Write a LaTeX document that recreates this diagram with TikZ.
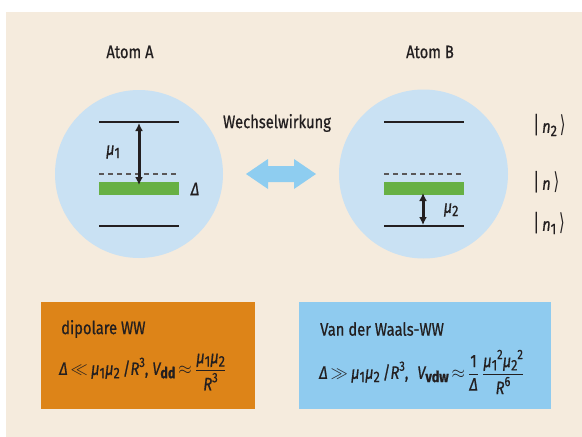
\documentclass[tikz,border=0pt]{standalone}
\usepackage{amsmath}
\usepackage{fontspec}
\setmainfont{Fira Sans}[FakeStretch=0.82,FakeBold=0.7]
\newfontfamily\symfont{DejaVu Sans}[FakeStretch=0.8]
\usetikzlibrary{arrows.meta}
\definecolor{bgbeige}{HTML}{F5EBDD}
\definecolor{atomblue}{HTML}{C9E1F3}
\definecolor{barblue}{HTML}{8ECDF0}
\definecolor{boxorange}{HTML}{DD8418}
\definecolor{boxblue}{HTML}{8FCBEF}
\definecolor{levgreen}{HTML}{67B044}
\definecolor{ink}{HTML}{231F20}
\newcommand\lo[1]{\raisebox{-0.35ex}{\scalebox{0.85}{#1}}}
\newcommand\hi[1]{\raisebox{0.85ex}{\scalebox{0.75}{#1}}}
\newcommand\myit[1]{{\itshape #1}}
\newcommand\ket[1]{\scalebox{1}[1.3]{|}\,#1\,\scalebox{1}[1.3]{\symfont ⟩}}
\tikzset{
  lbl/.style={text=ink, font=\fontsize{18}{21}\selectfont, inner sep=0pt},
  level/.style={line width=2.2pt, ink},
  dlevel/.style={line width=1.3pt, ink!75, dash pattern=on 5pt off 4pt},
  green/.style={fill=levgreen, draw=none},
  tran/.style={line width=3pt, draw=ink, {Latex[length=8pt,width=8pt]}-{Latex[length=8pt,width=8pt]}}
}
\begin{document}
\begin{tikzpicture}[x=1pt,y=-1pt]
\useasboundingbox (0,0) rectangle (582,437);
\fill[white] (0,0) rectangle (582,437);
\fill[bgbeige] (6,12) rectangle (582,437);

% atoms
\fill[atomblue] (139,174) circle (84);
\fill[atomblue] (423.5,174) circle (84.5);
\node[lbl] (atomA) at (130,52) {Atom A};
\node[lbl] (atomB) at (430,52) {Atom B};

% Atom A levels
\draw[level] (99,122) -- (179,122);
\draw[dlevel] (99,174) -- (179,174);
\fill[green] (99,182) rectangle (179,195);
\draw[level] (99,226) -- (179,226);
\coordinate (a1) at (139,123);
\coordinate (a2) at (139,185);
\draw[tran] (a1) -- (a2);
\node[lbl] (mu1) at (113,152) {\myit{μ}\lo{1}};
\node[lbl] (deltaA) at (195,189) {\myit{Δ}};

% Atom B levels
\draw[level] (384,122) -- (464,122);
\draw[dlevel] (384,174) -- (464,174);
\fill[green] (384,182) rectangle (464,195);
\draw[level] (384,226) -- (464,226);
\coordinate (b1) at (423,193);
\coordinate (b2) at (423,225);
\draw[tran] (b1) -- (b2);
\node[lbl] (mu2) at (451,210) {\myit{μ}\lo{2}};

% kets
\node[lbl, anchor=west] (n2) at (533,125) {\ket{\myit{n}\lo{2}}};
\node[lbl, anchor=west] (n) at (533,182) {\ket{\myit{n}}};
\node[lbl, anchor=west] (n1) at (533,223) {\ket{\myit{n}\lo{1}}};

% interaction
\node[lbl] (ww) at (277,123) {Wechselwirkung};
\fill[barblue] (246,174) -- (268,159) -- (268,166) -- (294,166) -- (294,159)
  -- (316,174) -- (294,189) -- (294,182) -- (268,182) -- (268,189) -- cycle;

% boxes
\fill[boxorange] (41,302) rectangle (255,409);
\fill[boxblue] (299,302) rectangle (551,409);
\node[lbl, anchor=west] (dd) at (61,329) {dipolare WW};
\node[lbl, anchor=west] (ddf) at (59,372)
  {\myit{Δ}\,$\ll$\,\myit{μ}\lo{1}\myit{μ}\lo{2}\,/\myit{R}\hi{3}, \myit{V}\lo{\bfseries dd}\,$\approx$\,%
   $\dfrac{\mbox{\myit{μ}\lo{1}\myit{μ}\lo{2}}}{\mbox{\myit{R}\hi{3}}}$};
\node[lbl, anchor=west] (vdw) at (320,329) {Van der Waals-WW};
\node[lbl, anchor=west] (vdwf) at (319,372)
  {\myit{Δ}\,$\gg$\,\myit{μ}\lo{1}\myit{μ}\lo{2}\,/\myit{R}\hi{3},\; \myit{V}\lo{\bfseries vdw}\,$\approx$\,%
   $\dfrac{\mbox{1}}{\mbox{\myit{Δ}}}\,\dfrac{\mbox{\myit{μ}\lo{1}\hi{2}\myit{μ}\lo{2}\hi{2}}}{\mbox{\myit{R}\hi{6}}}$};
\end{tikzpicture}
\end{document}
